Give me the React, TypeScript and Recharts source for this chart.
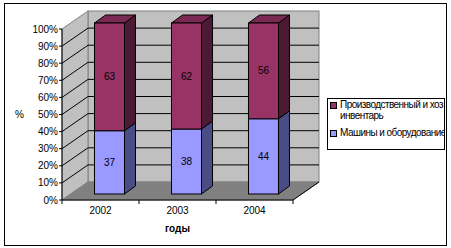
import React from "react";
import { BarChart, Bar, XAxis, YAxis, Legend, ReferenceArea, LabelList } from "recharts";

const YEARS = ["2002", "2003", "2004"];
const MACHINES = [37, 38, 44];
const INVENTORY = [63, 62, 56];
const Y_TICKS = [0, 10, 20, 30, 40, 50, 60, 70, 80, 90, 100];
const SERIES = [
  { key: "inventory", lines: ["Производственный и хоз", "инвентарь"], front: "#993366", side: "#4d1a36", top: "#7a2952" },
  { key: "machines", lines: ["Машины и оборудование"], front: "#9999ff", side: "#4a4c85", top: "#7a7acc" },
];

const data = YEARS.map((year, i) => ({ year, machines: MACHINES[i], inventory: INVENTORY[i] }));

const FONT = "'Liberation Sans', Arial, sans-serif";
// 3d offsets
const WALL_DX = 26;
const WALL_DY = -18;
const BAR_DX = 9;
const BAR_DY = -6;
const DEPTH_DX = 11;
const DEPTH_DY = -8;

const pts = (arr: number[][]) => arr.map((p) => p.join(",")).join(" ");

function Walls(props: any) {
  const { x, y, width, height } = props;
  const b = y + height;
  const grid = Y_TICKS.filter((v) => v > 0 && v < 100);
  const cats = YEARS.length;
  return (
    <g>
      <rect x={x + WALL_DX} y={y + WALL_DY} width={width} height={height} fill="#c0c0c0" stroke="#808080" />
      <polygon
        points={pts([[x, y], [x + WALL_DX, y + WALL_DY], [x + WALL_DX, b + WALL_DY], [x, b]])}
        fill="#c0c0c0"
        stroke="#808080"
      />
      <polygon
        points={pts([[x, b], [x + WALL_DX, b + WALL_DY], [x + width + WALL_DX, b + WALL_DY], [x + width, b]])}
        fill="#808080"
        stroke="#808080"
      />
      <line x1={x + width} y1={b} x2={x + width + WALL_DX} y2={b + WALL_DY} stroke="#000" />
      {grid.map((v) => {
        const gy = b - (height * v) / 100;
        return (
          <g key={v}>
            <line x1={x} y1={gy} x2={x + WALL_DX} y2={gy + WALL_DY} stroke="#000" />
            <line x1={x + WALL_DX} y1={gy + WALL_DY} x2={x + width + WALL_DX} y2={gy + WALL_DY} stroke="#000" />
          </g>
        );
      })}
      {Array.from({ length: cats + 1 }, (_, k) => (
        <line key={k} x1={x + (width * k) / cats} y1={b} x2={x + (width * k) / cats} y2={b + 4} stroke="#000" />
      ))}
    </g>
  );
}

function makeShape(s: (typeof SERIES)[number], isTop: boolean) {
  return (props: any) => {
    const { x, y, width: w, height: h } = props;
    const fx = x + BAR_DX;
    const fy = y + BAR_DY;
    return (
      <g>
        <polygon
          points={pts([[fx + w, fy], [fx + w + DEPTH_DX, fy + DEPTH_DY], [fx + w + DEPTH_DX, fy + h + DEPTH_DY], [fx + w, fy + h]])}
          fill={s.side}
          stroke="#000"
        />
        {isTop && (
          <polygon
            points={pts([[fx, fy], [fx + DEPTH_DX, fy + DEPTH_DY], [fx + w + DEPTH_DX, fy + DEPTH_DY], [fx + w, fy]])}
            fill={s.top}
            stroke="#000"
          />
        )}
        <rect x={fx} y={fy} width={w} height={h} fill={s.front} stroke="#000" />
      </g>
    );
  };
}

const renderValue = (props: any) => {
  const { x, y, width, height, value } = props;
  return (
    <text
      x={x + width / 2 + BAR_DX}
      y={y + height / 2 + BAR_DY}
      textAnchor="middle"
      dominantBaseline="central"
      fontSize={10}
      fontFamily={FONT}
      fill="#000"
    >
      {value}
    </text>
  );
};

function LegendBox() {
  return (
    <div
      style={{
        width: 118,
        height: 52,
        boxSizing: "border-box",
        border: "1px solid #000",
        background: "#fff",
        fontFamily: FONT,
        fontSize: 10,
        lineHeight: "11px",
        letterSpacing: -0.55,
        color: "#000",
        overflow: "hidden",
      }}
    >
      {SERIES.map((s, i) => (
        <div key={s.key} style={{ display: "flex", alignItems: "flex-start", marginTop: i === 0 ? 0 : 6 }}>
          <span
            style={{
              display: "inline-block",
              width: 5,
              height: 5,
              border: "1px solid #000",
              background: s.front,
              margin: "3px 3px 0 2px",
              flexShrink: 0,
            }}
          />
          <span style={{ whiteSpace: "nowrap" }}>
            {s.lines.map((l, j) => (
              <div key={j}>{l}</div>
            ))}
          </span>
        </div>
      ))}
    </div>
  );
}

export default function App() {
  const inv = SERIES[0];
  const mach = SERIES[1];
  return (
    <div style={{ position: "absolute", left: 0, top: 0, width: 451, height: 248, background: "#fff" }}>
      <div
        style={{
          position: "absolute",
          left: 4,
          top: 3,
          width: 443,
          height: 243,
          boxSizing: "border-box",
          border: "1px solid #000",
        }}
      />
      <BarChart
        width={451}
        height={248}
        data={data}
        margin={{ top: 29, right: 158, bottom: 16, left: 12 }}
        barCategoryGap="30.5%"
        style={{ position: "absolute", left: 0, top: 0, fontFamily: FONT }}
      >
        <ReferenceArea y1={0} y2={100} shape={Walls} ifOverflow="visible" />
        <XAxis
          dataKey="year"
          height={32}
          stroke="#000"
          tickLine={false}
          tickSize={4}
          tickMargin={2.5}
          tick={{ fill: "#000", fontSize: 10, fontFamily: FONT }}
          label={{ value: "годы", position: "insideBottom", offset: 0, fill: "#000", fontSize: 10, fontWeight: "bold", fontFamily: FONT }}
        />
        <YAxis
          width={50}
          domain={[0, 100]}
          ticks={Y_TICKS}
          interval={0}
          stroke="#000"
          tickSize={3}
          tickMargin={1}
          tickFormatter={(v) => `${v}%`}
          tick={{ fill: "#000", fontSize: 10, fontFamily: FONT }}
          label={{ value: "%", position: "insideLeft", offset: 3, angle: 0, fill: "#000", fontSize: 10, fontFamily: FONT }}
        />
        <Legend
          layout="vertical"
          align="center"
          verticalAlign="middle"
          content={() => <LegendBox />}
          wrapperStyle={{ left: 327, top: 98, width: 118, height: 52 }}
        />
        <Bar dataKey="machines" stackId="a" isAnimationActive={false} shape={makeShape(mach, false)}>
          <LabelList dataKey="machines" content={renderValue} />
        </Bar>
        <Bar dataKey="inventory" stackId="a" isAnimationActive={false} shape={makeShape(inv, true)}>
          <LabelList dataKey="inventory" content={renderValue} />
        </Bar>
      </BarChart>
    </div>
  );
}
